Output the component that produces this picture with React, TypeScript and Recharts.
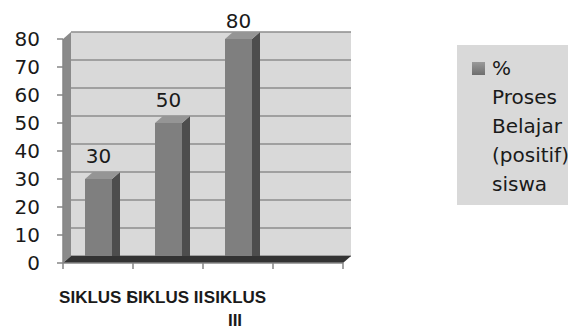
import React from "react";
import { BarChart, Bar, XAxis, YAxis, ReferenceArea, ReferenceLine, LabelList } from "recharts";

const categories = ["SIKLUS I", "SIKLUS II", "SIKLUS III", ""];
const prosesValues = [30, 50, 80, null];
const yTicks = [0, 10, 20, 30, 40, 50, 60, 70, 80];
const seriesName = "% Proses Belajar (positif) siswa";

const data = categories.map((name, i) => ({ name, value: prosesValues[i] }));

// depth of the fake 3d
const DX = 8;
const DY = 7;

const Column3D = (props: any) => {
  const { x, y, width, height } = props;
  if (!height || height <= 0) return null;
  return (
    <g>
      <rect x={x} y={y} width={width} height={height} fill="#7f7f7f" />
      <polygon
        points={`${x + width},${y} ${x + width + DX},${y - DY} ${x + width + DX},${y + height - DY} ${x + width},${y + height}`}
        fill="#4d4d4d"
      />
      <polygon
        points={`${x},${y} ${x + DX},${y - DY} ${x + width + DX},${y - DY} ${x + width},${y}`}
        fill="#959595"
      />
    </g>
  );
};

const Walls = (props: any) => {
  const { x, y, width, height } = props;
  return (
    <g>
      <polygon
        points={`${x},${y} ${x + DX},${y - DY} ${x + DX},${y + height - DY} ${x},${y + height}`}
        fill="#8a8a8a"
      />
      <rect x={x + DX} y={y - DY} width={width} height={height} fill="#d9d9d9" />
    </g>
  );
};

const BackGridLine = (props: any) => {
  const { x1, y1, x2, y2 } = props;
  return (
    <line x1={x1 + DX} y1={y1 - DY} x2={x2 + DX} y2={y2 - DY} stroke="#8c8c8c" strokeWidth={1.5} />
  );
};

// floor band plus the tick marks between the categories
const Floor = (props: any) => {
  const { x1, y1, x2 } = props;
  const step = (x2 - x1) / categories.length;
  return (
    <g>
      <polygon
        points={`${x1},${y1} ${x2},${y1} ${x2 + DX},${y1 - DY} ${x1 + DX},${y1 - DY}`}
        fill="#333333"
      />
      {categories.concat([""]).map((_, i) => (
        <line
          key={i}
          x1={x1 + step * i}
          y1={y1}
          x2={x1 + step * i}
          y2={y1 + 6}
          stroke="#868686"
          strokeWidth={1.5}
        />
      ))}
    </g>
  );
};

const ValueLabel = (props: any) => {
  const { x, y, width, value } = props;
  if (value == null) return null;
  return (
    <text
      x={x + width / 2}
      y={Math.max(y - 16, 28)}
      textAnchor="middle"
      fill="#1a1a1a"
      fontSize={20}
      fontFamily="DejaVu Sans"
    >
      {value}
    </text>
  );
};

const CategoryTick = (props: any) => {
  const { x, y, payload } = props;
  const label: string = payload.value || "";
  const words = label.split(" ");
  const lines =
    label.length > 9 ? [words.slice(0, -1).join(" "), words[words.length - 1]] : [label];
  return (
    <text
      x={x - 3}
      y={y + 40}
      textAnchor="middle"
      fontFamily="Liberation Sans"
      fontWeight="bold"
      fontSize={17}
      fill="#1a1a1a"
    >
      {lines.map((line, i) => (
        <tspan key={i} x={x - 3} dy={i === 0 ? 0 : 23}>
          {line}
        </tspan>
      ))}
    </text>
  );
};

export default function App() {
  return (
    <div
      style={{
        position: "absolute",
        left: 0,
        top: 0,
        width: 568,
        height: 329,
        overflow: "hidden",
        background: "#ffffff",
      }}
    >
      <BarChart
        width={568}
        height={329}
        data={data}
        margin={{ top: 39, right: 225, left: 0, bottom: 0 }}
      >
        <XAxis
          dataKey="name"
          height={66}
          interval={0}
          tickLine={false}
          tickSize={0}
          tickMargin={0}
          axisLine={{ stroke: "#868686", strokeWidth: 1.5 }}
          tick={<CategoryTick />}
        />
        <YAxis
          domain={[0, 80]}
          ticks={yTicks}
          width={63}
          tickSize={6}
          tickMargin={17}
          axisLine={{ stroke: "#868686", strokeWidth: 1.5 }}
          tickLine={{ stroke: "#868686", strokeWidth: 1.5 }}
          tick={{ fill: "#1a1a1a", fontSize: 20, fontFamily: "DejaVu Sans" }}
        />
        <ReferenceArea y1={0} y2={80} shape={<Walls />} ifOverflow="visible" zIndex={-60} />
        {yTicks.map((v) => (
          <ReferenceLine key={v} y={v} shape={<BackGridLine />} ifOverflow="visible" zIndex={-50} />
        ))}
        <Bar
          dataKey="value"
          name={seriesName}
          barSize={27}
          shape={<Column3D />}
          isAnimationActive={false}
        >
          <LabelList dataKey="value" content={<ValueLabel />} />
        </Bar>
        <ReferenceLine y={0} shape={<Floor />} ifOverflow="visible" zIndex={350} />
      </BarChart>
      <div
        style={{
          position: "absolute",
          left: 457,
          top: 45,
          width: 120,
          height: 160,
          background: "#d9d9d9",
        }}
      >
        <div
          style={{
            position: "absolute",
            left: 15,
            top: 17,
            width: 13,
            height: 13,
            background: "linear-gradient(#9a9a9a, #6e6e6e)",
          }}
        />
        <div
          style={{
            position: "absolute",
            left: 35,
            top: 9,
            width: 40,
            fontFamily: "DejaVu Sans",
            fontSize: 20,
            lineHeight: "29px",
            color: "#1a1a1a",
          }}
        >
          {seriesName}
        </div>
      </div>
    </div>
  );
}
